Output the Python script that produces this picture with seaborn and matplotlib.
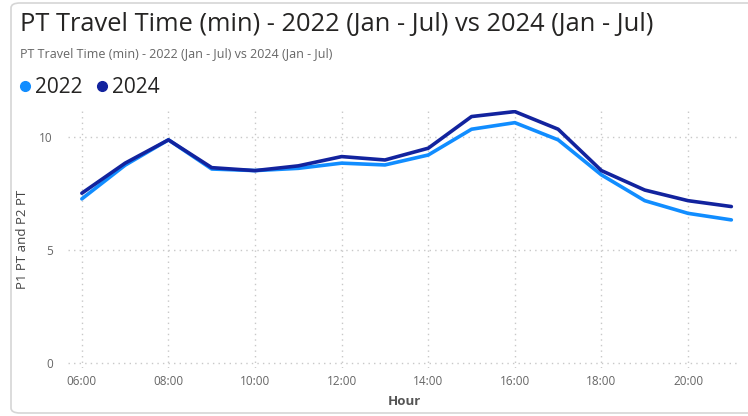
import matplotlib
matplotlib.use("Agg")
import matplotlib.pyplot as plt
from matplotlib.patches import FancyBboxPatch
from matplotlib.lines import Line2D
import seaborn as sns
import pandas as pd

# Average public-transport travel time per hour of day
hours = [6, 7, 8, 9, 10, 11, 12, 13, 14, 15, 16, 17, 18, 19, 20, 21]
travel_2022 = [7.26, 8.75, 9.87, 8.58, 8.51, 8.61, 8.84, 8.76, 9.20, 10.34, 10.63, 9.87, 8.32, 7.18, 6.62, 6.33]
travel_2024 = [7.51, 8.84, 9.87, 8.64, 8.51, 8.72, 9.13, 8.98, 9.50, 10.90, 11.12, 10.34, 8.51, 7.65, 7.18, 6.92]
tick_hours = [6, 8, 10, 12, 14, 16, 18, 20]
tick_labels = ["06:00", "08:00", "10:00", "12:00", "14:00", "16:00", "18:00", "20:00"]
years = ["2022", "2024"]
colors = {"2022": "#118DFF", "2024": "#12239E"}

df = pd.DataFrame({
    "Hour": hours * 2,
    "Value": travel_2022 + travel_2024,
    "Year": ["2022"] * len(hours) + ["2024"] * len(hours),
})

sns.set_theme(style="white")
plt.rcParams["font.family"] = ["Open Sans", "DejaVu Sans"]

fig = plt.figure(figsize=(7.48, 4.16), dpi=100)
fig.patch.set_facecolor("white")

# card outline
card = FancyBboxPatch((11 / 748, 3 / 416), 760 / 748, 410 / 416,
                      boxstyle="round,pad=0,rounding_size=0.012",
                      transform=fig.transFigure, facecolor="none",
                      edgecolor="#D6D6D6", linewidth=1.2, zorder=0)
fig.patches.append(card)

ax = fig.add_axes([68 / 748, 1 - 368 / 416, (740 - 68) / 748, (368 - 110) / 416])
sns.lineplot(data=df, x="Hour", y="Value", hue="Year", palette=colors,
             hue_order=years, linewidth=2.6, ax=ax, legend=False)

ax.set_xlim(5.68, 21.2)
ax.set_ylim(-0.22, 11.19)
ax.set_xticks(tick_hours)
ax.set_xticklabels(tick_labels)
ax.set_yticks([0, 5, 10])
ax.tick_params(axis="both", length=0, labelsize=8.5, labelcolor="#666666", pad=5)
ax.tick_params(axis="y", pad=11)
for s in ax.spines.values():
    s.set_visible(False)
ax.grid(True, axis="both", color="#C8C8C8", linestyle=(0, (1, 3)), linewidth=1.0)

ax.set_xlabel("Hour", fontsize=9.5, fontweight="bold", color="#555555", labelpad=5)
ax.set_ylabel("P1 PT and P2 PT", fontsize=9.5, color="#444444", labelpad=7)

fig.text(20 / 748, 1 - 31 / 416, "PT Travel Time (min) - 2022 (Jan - Jul) vs 2024 (Jan - Jul)",
         fontsize=18.4, color="#252423", ha="left", va="baseline")
fig.text(20 / 748, 1 - 57 / 416, "PT Travel Time (min) - 2022 (Jan - Jul) vs 2024 (Jan - Jul)",
         fontsize=9, color="#666666", ha="left", va="baseline")

# legend row
handles = [Line2D([0], [0], marker="o", linestyle="none", markersize=7,
                  markerfacecolor=colors[y], markeredgecolor=colors[y]) for y in years]
fig.legend(handles, years, loc="upper left", bbox_to_anchor=(4 / 748, 1 - 67 / 416),
           ncol=2, frameon=False, fontsize=15, handletextpad=0.0, columnspacing=0.4,
           handlelength=1.0, borderpad=0, labelcolor="#252423")

fig.savefig("out.png", dpi=100, facecolor="white")
